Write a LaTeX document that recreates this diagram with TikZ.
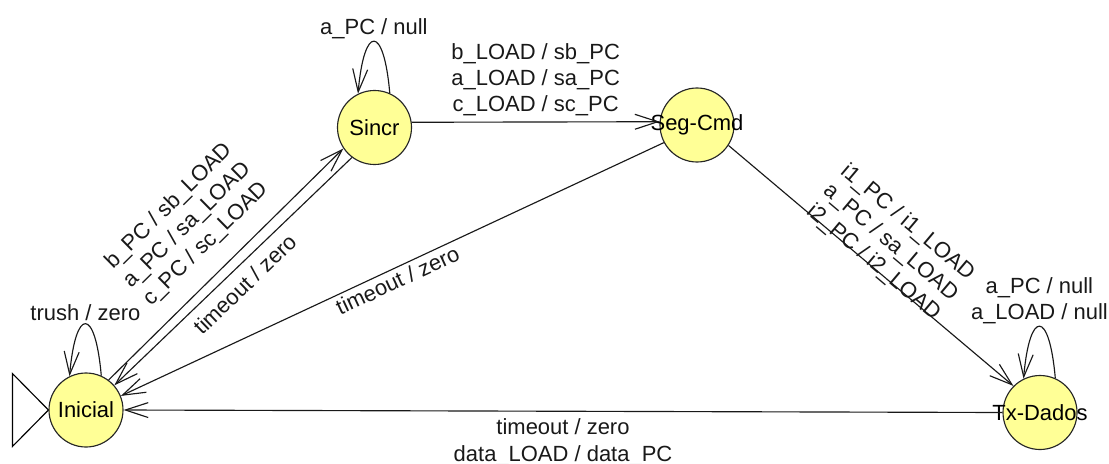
\documentclass[tikz,border=0pt]{standalone}
\usepackage{fontspec}
\setmainfont{Liberation Sans}
\usepackage{xcolor}
\usetikzlibrary{arrows.meta}
\definecolor{stateyellow}{RGB}{255,255,150}

\begin{document}
\begin{tikzpicture}[
    font=\fontsize{12.5}{15}\selectfont,
    >={Straight Barb[length=13pt,width=8.5pt]},
    state/.style={circle, draw=black!85, fill=stateyellow, line width=0.65pt,
                  minimum size=1.48cm, inner sep=0pt},
    trans/.style={->, line width=0.65pt, black!90},
    selfloop/.style={trans, out=95, in=85, looseness=5.6},
    lbl/.style={inner sep=0pt, align=center, text=black!90}
  ]
        \useasboundingbox (0,0) rectangle (22.18,9.26);
        % states
        \node[state] (ini) at (1.72,1.06) {\makebox[0pt]{Inicial}};
        \node[state] (sin) at (7.49,6.71) {\makebox[0pt]{Sincr}};
        \node[state] (seg) at (13.94,6.76) {\makebox[0pt]{Seg-Cmd}};
        \node[state] (tx) at (20.80,1.01) {\makebox[0pt]{Tx-Dados}};
        % initial marker
        \draw[line width=0.65pt] (ini.west) -- +(-0.72,0.73) -- +(-0.72,-0.73) -- cycle;
        % self loops
        \draw[selfloop] (ini.66) to node[lbl, above=1.5pt] {trush / zero} (ini.116);
        \draw[selfloop] (sin.66) to node[lbl, above=1pt] {a\_PC / null} (sin.116);
        \draw[selfloop] (tx.66) to node[lbl, above=1pt] {a\_PC / null\\a\_LOAD / null} (tx.116);
        % transitions
        \draw[trans] (ini.53) -- (sin.214)
              node[lbl, midway, sloped, above=10pt] {b\_PC / sb\_LOAD\\a\_PC / sa\_LOAD\\c\_PC / sc\_LOAD};
        \draw[trans] (sin.233) -- (ini.41)
              node[lbl, midway, sloped, below=5pt] {timeout / zero};
        \draw[trans] (sin.8) -- (seg.175)
              node[lbl, midway, above=3pt] {b\_LOAD / sb\_PC\\a\_LOAD / sa\_PC\\c\_LOAD / sc\_PC};
        \draw[trans] (seg.208) -- (ini.22)
              node[lbl, midway, sloped, below=2pt] {timeout / zero};
        \draw[trans] (seg.-33) -- (tx.135)
              node[lbl, midway, sloped, above=-4pt] {i1\_PC / i1\_LOAD\\a\_PC / sa\_LOAD\\i2\_PC / i2\_LOAD};
        \draw[trans] (tx.west) -- (ini.east)
              node[lbl, midway, below=4pt] {timeout / zero\\data\_LOAD / data\_PC};
\end{tikzpicture}
\end{document}
